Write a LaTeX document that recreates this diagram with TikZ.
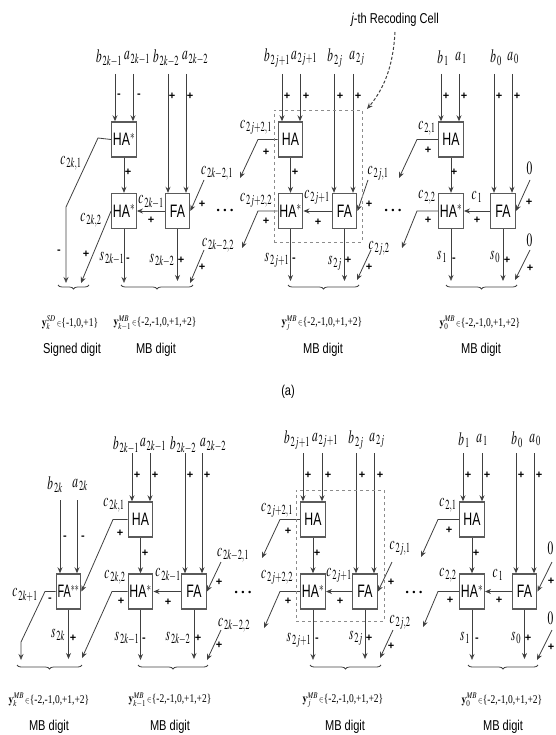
\documentclass[tikz,border=0pt]{standalone}
\usepackage{graphicx}
\usepackage{mathptmx}
\usepackage[no-math]{fontspec}
\setmainfont{Liberation Serif}
\setsansfont{Liberation Sans}
\usetikzlibrary{arrows.meta, decorations.pathreplacing, bending}
\definecolor{cwire}{HTML}{404040}
\definecolor{cbox}{HTML}{5A5A5A}
\definecolor{cdash}{HTML}{8C8C8C}
\newcommand{\sg}[2]{\scalebox{0.76}[1.25]{$#1_{\,#2}$}}
\newcommand{\digitset}[3]{\scalebox{1}[1.25]{$\mathbf{y}_{#2}^{\mathit{#1}}\,{\scriptstyle\in}$\{#3\}}}
\newcommand{\cname}[1]{\scalebox{0.82}[1.2]{#1}}
\newcommand{\tname}[1]{\scalebox{0.85}[1.1]{#1}}
\tikzset{
  every picture/.style={line width=0.8pt},
  cell/.style={draw=cbox, line width=1.4pt, fill=white, minimum width=24.5pt, minimum height=35pt, inner sep=0pt, font=\sffamily\fontsize{15}{15}\selectfont},
  wire/.style={-{Stealth[length=6pt, width=5pt]}, draw=cwire},
  negwire/.style={-{Stealth[open, length=6pt, width=5pt]}, draw=cwire},
  sig/.style={inner sep=0pt, font=\fontsize{15}{15}\selectfont},
  sign/.style={inner sep=0pt, font=\sffamily\bfseries\fontsize{11}{11}\selectfont},
  digitval/.style={inner sep=0pt, font=\fontsize{9.5}{10}\selectfont},
  digitname/.style={inner sep=0pt, font=\sffamily\fontsize{13}{13}\selectfont},
  dotsep/.style={inner sep=0pt, font=\bfseries\fontsize{15}{15}\selectfont},
  digitbrace/.style={draw=cwire, decorate, decoration={brace, mirror, amplitude=4pt}},
}
\begin{document}
\begin{tikzpicture}[x=1pt, y=-1pt]
  \useasboundingbox (0,0) rectangle (555,735);
  % recoding cells, top row
  \node[cell] (tHAk) at (124,139.5) {\cname{HA$^{*}$}};
  \node[cell] (tHSk) at (124,211) {\cname{HA$^{*}$}};
  \node[cell] (tFAk) at (177.5,211) {\cname{FA}};
  \node[cell] (tHAj) at (290.5,139.5) {\cname{HA}};
  \node[cell] (tHSj) at (290.5,211) {\cname{HA$^{*}$}};
  \node[cell] (tFAj) at (344.5,211) {\cname{FA}};
  \node[cell] (tHAz) at (451,139.5) {\cname{HA}};
  \node[cell] (tHSz) at (451,211) {\cname{HA$^{*}$}};
  \node[cell] (tFAz) at (503,211) {\cname{FA}};
  % recoding cells, bottom row
  \node[cell] (bFFk) at (68.5,591.5) {\scalebox{0.72}[1.2]{FA$^{**}$}};
  \node[cell] (bHAk) at (140.5,519.5) {\cname{HA}};
  \node[cell] (bHSk) at (140.5,591.5) {\cname{HA$^{*}$}};
  \node[cell] (bFAk) at (194,591.5) {\cname{FA}};
  \node[cell] (bHAj) at (313,519.5) {\cname{HA}};
  \node[cell] (bHSj) at (313,591.5) {\cname{HA$^{*}$}};
  \node[cell] (bFAj) at (365,591.5) {\cname{FA}};
  \node[cell] (bHAz) at (472,519.5) {\cname{HA}};
  \node[cell] (bHSz) at (472,591.5) {\cname{HA$^{*}$}};
  \node[cell] (bFAz) at (524.5,591.5) {\cname{FA}};
  % inputs
  \foreach \nm/\x/\ytop/\cell/\lx/\ly/\txt in {
    tbk1/115/74/tHAk/109/58/{\sg{b}{2k-1}}, tak1/133/74/tHAk/137/58/{\sg{a}{2k-1}},
    bbf1/60/500/bFFk/55/485/{\sg{b}{2k}}, baf1/77/500/bFFk/80/485/{\sg{a}{2k}}}{
    \node[sig] (l\nm) at (\lx,\ly) {\txt};
    \coordinate (i\nm) at (\x,\ytop);
    \draw[negwire] (i\nm) -- (i\nm |- \cell.north);
  }
  \foreach \nm/\x/\ytop/\cell/\lx/\ly/\txt in {
    tbk2/168/74/tFAk/166/58/{\sg{b}{2k-2}}, tak2/186/74/tFAk/195/58/{\sg{a}{2k-2}},
    tbj1/282/74/tHAj/277/58/{\sg{b}{2j+1}}, taj1/300/74/tHAj/304/58/{\sg{a}{2j+1}},
    tbj2/334/74/tFAj/335/58/{\sg{b}{2j}}, taj2/353/74/tFAj/357/58/{\sg{a}{2j}},
    tbz1/441/74/tHAz/443/58/{\sg{b}{1}}, taz1/459/74/tHAz/461/58/{\sg{a}{1}},
    tbz2/494/74/tFAz/496/58/{\sg{b}{0}}, taz2/512/74/tFAz/513/58/{\sg{a}{0}},
    bbk1/132/453/bHAk/126/445/{\sg{b}{2k-1}}, bak1/150/453/bHAk/153/445/{\sg{a}{2k-1}},
    bbk2/185/453/bFAk/183/445/{\sg{b}{2k-2}}, bak2/202/453/bFAk/213/445/{\sg{a}{2k-2}},
    bbj1/303/453/bHAj/297/440/{\sg{b}{2j+1}}, baj1/322/453/bHAj/325/440/{\sg{a}{2j+1}},
    bbj2/356/453/bFAj/356/440/{\sg{b}{2j}}, baj2/374/453/bFAj/377/440/{\sg{a}{2j}},
    bbz1/463/453/bHAz/464/440/{\sg{b}{1}}, baz1/482/453/bHAz/482/440/{\sg{a}{1}},
    bbz2/516/453/bFAz/517/440/{\sg{b}{0}}, baz2/534/453/bFAz/535/440/{\sg{a}{0}}}{
    \node[sig] (l\nm) at (\lx,\ly) {\txt};
    \coordinate (i\nm) at (\x,\ytop);
    \draw[wire] (i\nm) -- (i\nm |- \cell.north);
  }
  % free ends and bends
  \foreach \nm/\x/\y in {
    tk1a/98/138, tk1b/66/207, tk1c/66/283, tk2c/81/283, tk3c/124/283, tk4c/177.5/281,
    tk5a/204/180, tk6a/204/250, tk6c/190/283,
    tj1a/258/139.5, tj1c/240/178, tj2a/258/211, tj2c/242/248, tj3c/290.5/281, tj4c/344.5/281,
    tj5a/368/180, tj6a/371/250, tj6c/357/280,
    tz1a/417/139.5, tz1c/399/178, tz2a/417/211, tz2c/402/248, tz3c/451/281, tz4c/503/281,
    tz5a/530/180, tz6a/530/250, tz6c/515/280,
    bf1a/45/591.5, bf1b/21/642, bf1c/21/660, bf3c/68.5/659,
    bk1a/113/519.5, bk2a/112/591.5, bk2c/82/658, bk3c/140.5/660, bk4c/194/659,
    bk5a/221/562, bk6a/221/630, bk6c/207/660,
    bj1a/280/519.5, bj1c/262/558, bj2a/280/591.5, bj2c/264/628, bj3c/313/660, bj4c/365/659,
    bj5a/392/562, bj6a/393/630, bj6c/380/658,
    bz1a/438/519.5, bz1c/421/557, bz2a/438/591.5, bz2c/423/627, bz3c/472/660, bz4c/524.5/659,
    bz5a/552/562, bz6a/552/630, bz6c/537/660,
    jcella/395/32, jcellc/367/109,
    tbr1/58/285, tbr2/89/285, tbr3/121/285, tbr4/193/285, tbr5/288/285, tbr6/359/285, tbr7/446/285, tbr8/517/285,
    bbr1/17/665, bbr2/82/665, bbr3/138/665, bbr4/208/665, bbr5/310/665, bbr6/381/665, bbr7/468/665, bbr8/538/665}{
    \coordinate (\nm) at (\x,\y);
  }
  % connectors
  \draw[negwire] (tHAk.west) -- (tk1a) -- (tk1b) -- (tk1c);
  \draw[negwire] (tHSk.south) -- (tk3c);
  \draw[negwire] (tHSj.south) -- (tj3c);
  \draw[negwire] (tHSz.south) -- (tz3c);
  \draw[negwire] (bFFk.west) -- (bf1a) -- (bf1b) -- (bf1c);
  \draw[negwire] (bHSk.south) -- (bk3c);
  \draw[negwire] (bHSj.south) -- (bj3c);
  \draw[negwire] (bHSz.south) -- (bz3c);
  \foreach \from/\to in {tHAk/tHSk, tFAk/tHSk, tHSk.west/tk2c, tFAk.south/tk4c, tk5a/tFAk.east, tk6a/tk6c,
    tHAj/tHSj, tFAj/tHSj, tFAj.south/tj4c, tj5a/tFAj.east, tj6a/tj6c,
    tHAz/tHSz, tFAz/tHSz, tFAz.south/tz4c, tz5a/tFAz.east, tz6a/tz6c,
    bFFk.south/bf3c, bHAk/bHSk, bFAk/bHSk, bFAk.south/bk4c, bk5a/bFAk.east, bk6a/bk6c,
    bHAj/bHSj, bFAj/bHSj, bFAj.south/bj4c, bj5a/bFAj.east, bj6a/bj6c,
    bHAz/bHSz, bFAz/bHSz, bFAz.south/bz4c, bz5a/bFAz.east, bz6a/bz6c}{
    \draw[wire] (\from) -- (\to);
  }
  \foreach \from/\bend/\to in {tHAj.west/tj1a/tj1c, tHSj.west/tj2a/tj2c, tHAz.west/tz1a/tz1c, tHSz.west/tz2a/tz2c,
    bHAk.west/bk1a/bFFk.east, bHSk.west/bk2a/bk2c, bHAj.west/bj1a/bj1c, bHSj.west/bj2a/bj2c,
    bHAz.west/bz1a/bz1c, bHSz.west/bz2a/bz2c}{
    \draw[wire] (\from) -- (\bend) -- (\to);
  }
  % digit braces
  \foreach \a/\b in {tbr1/tbr2, tbr3/tbr4, tbr5/tbr6, tbr7/tbr8, bbr1/bbr2, bbr3/bbr4, bbr5/bbr6, bbr7/bbr8}{
    \draw[digitbrace] (\a) -- (\b);
  }
  % recoding cell outline
  \node[draw=cdash, dashed, line width=0.8pt, minimum width=88pt, minimum height=132pt, inner sep=0pt] (tcell) at (318,176) {};
  \node[draw=cdash, dashed, line width=0.8pt, minimum width=88pt, minimum height=131pt, inner sep=0pt] (bcell) at (340,555.5) {};
  \node[digitname] (jcell) at (395,20) {\tname{\textit{j}-th Recoding Cell}};
  \draw[wire, densely dashed, line width=1pt] (jcella) .. controls (393,70) and (382,92) .. (jcellc);
  % signal names
  \foreach \lx/\ly/\txt [count=\i] in {
    71/163/{\sg{c}{2k,1}}, 91/220/{\sg{c}{2k,2}}, 151/202/{\sg{c}{2k-1}}, 217/173/{\sg{c}{2k-2,1}}, 218/245/{\sg{c}{2k-2,2}},
    112/258/{\sg{s}{2k-1}}, 162/260/{\sg{s}{2k-2}}, 256/127/{\sg{c}{2j+2,1}}, 256/200/{\sg{c}{2j+2,2}}, 277/260/{\sg{s}{2j+1}},
    317/197/{\sg{c}{2j+1}}, 378/173/{\sg{c}{2j,1}}, 379/248/{\sg{c}{2j,2}}, 335/263/{\sg{s}{2j}},
    427/128/{\sg{c}{2,1}}, 477/197/{\sg{c}{1}}, 427/197/{\sg{c}{2,2}}, 442/257/{\sg{s}{1}}, 495/257/{\sg{s}{0}}, 530/170/{\sg{0}{}}, 530/242/{\sg{0}{}},
    114/505/{\sg{c}{2k,1}}, 25/595/{\sg{c}{2k+1}}, 115/577/{\sg{c}{2k,2}}, 168/575/{\sg{c}{2k-1}}, 233/555/{\sg{c}{2k-2,1}}, 234/625/{\sg{c}{2k-2,2}},
    58/635/{\sg{s}{2k}}, 127/638/{\sg{s}{2k-1}}, 178/638/{\sg{s}{2k-2}}, 277/510/{\sg{c}{2j+2,1}}, 277/577/{\sg{c}{2j+2,2}},
    339/575/{\sg{c}{2j+1}}, 400/548/{\sg{c}{2j,1}}, 400/622/{\sg{c}{2j,2}}, 299/640/{\sg{s}{2j+1}}, 356/638/{\sg{s}{2j}},
    448/505/{\sg{c}{2,1}}, 448/575/{\sg{c}{2,2}}, 498/575/{\sg{c}{1}}, 465/638/{\sg{s}{1}}, 516/638/{\sg{s}{0}}, 551/550/{\sg{0}{}}, 551/620/{\sg{0}{}}}{
    \node[sig] (name\i) at (\lx,\ly) {\txt};
  }
  % polarity marks
  \foreach \x/\y [count=\i] in {
    172/96, 190/96, 128/172, 202/204, 151/220, 86/254, 181/260, 202/267, 266/152, 266/221,
    287/96, 306/96, 340/96, 358/96, 295/172, 369/204, 318/222, 348/260, 369/267,
    446/96, 464/96, 499/96, 517/96, 428/150, 454/172, 428/220, 477/220, 507/260, 529/202, 530/268,
    137/475, 155/475, 190/475, 207/475, 120/533, 145/553, 219/582, 121/601, 168/602, 73/638, 198/638, 219/645,
    308/475, 328/475, 362/475, 380/475, 288/531, 317/553, 391/582, 288/601, 340/601, 369/638, 391/646,
    449/530, 476/553, 450/600, 499/600, 528/638, 551/581, 551/647, 468/475, 487/475, 521/475, 539/475}{
    \node[sign] (plus\i) at (\x,\y) {+};
  }
  \foreach \x/\y [count=\i] in {
    119/96, 139/96, 59/252, 128/260, 294/260, 454/260,
    65/538, 83/538, 50/600, 144/640, 317/640, 477/640}{
    \node[sign] (minus\i) at (\x,\y) {-};
  }
  \foreach \x/\y [count=\i] in {225/210, 393/210, 243/592, 414/592}{
    \node[dotsep] (dots\i) at (\x,\y) {.\hspace{3pt}.\hspace{3pt}.};
  }
  % digit ranges
  \foreach \x/\y/\txt [count=\i] in {
    70/323/{\digitset{SD}{k}{-1,0,+1}}, 155/323/{\digitset{MB}{k-1}{-2,-1,0,+1,+2}},
    322/323/{\digitset{MB}{j}{-2,-1,0,+1,+2}}, 480/323/{\digitset{MB}{0}{-2,-1,0,+1,+2}},
    49/700/{\digitset{MB}{k}{-2,-1,0,+1,+2}}, 170/700/{\digitset{MB}{k-1}{-2,-1,0,+1,+2}},
    343/700/{\digitset{MB}{j}{-2,-1,0,+1,+2}}, 502/700/{\digitset{MB}{0}{-2,-1,0,+1,+2}}}{
    \node[digitval] (range\i) at (\x,\y) {\txt};
  }
  \foreach \x/\y/\txt [count=\i] in {
    72/350/{Signed digit}, 156/350/{MB digit}, 323/350/{MB digit}, 481/350/{MB digit},
    49/727/{MB digit}, 170/727/{MB digit}, 345/727/{MB digit}, 503/727/{MB digit}}{
    \node[digitname] (kind\i) at (\x,\y) {\tname{\txt}};
  }
  \node[digitname] (parta) at (288,392) {\tname{(a)}};
\end{tikzpicture}
\end{document}
